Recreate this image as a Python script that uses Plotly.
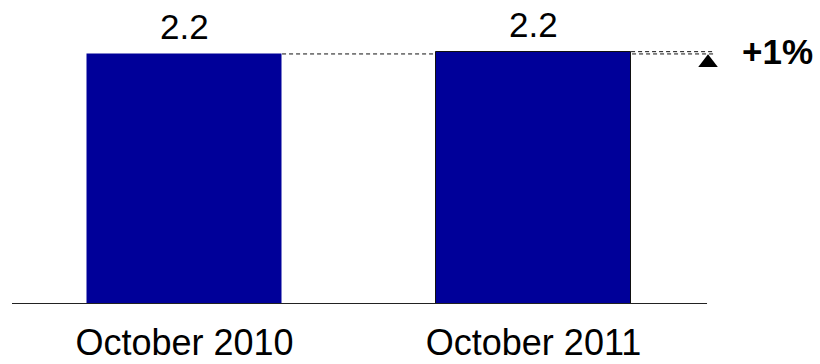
import plotly.graph_objects as go

# Data
categories = ["October 2010", "October 2011"]
values = [2.18, 2.20]
value_labels = ["2.2", "2.2"]
change_label = "+1%"

BAR_COLOR = "#000099"
FONT = "Liberation Sans, Arial, sans-serif"
BAR_WIDTH = 0.559

x_pos = list(range(len(categories)))
x_min, x_max = -0.4943, 1.54
axis_end = 1.4971


def to_paper(xv):
    return (xv - x_min) / (x_max - x_min)


fig = go.Figure()

fig.add_trace(go.Bar(
    x=x_pos,
    y=values,
    width=BAR_WIDTH,
    marker=dict(color=BAR_COLOR, line=dict(color=["rgba(0,0,0,0)", "#111111"], width=1)),
    hoverinfo="skip",
))

# Value labels above the bars
for xp, v, lab in zip(x_pos, values, value_labels):
    fig.add_annotation(
        x=xp, y=v, xref="x", yref="y",
        text=lab, showarrow=False,
        xanchor="center", yanchor="bottom", yshift=6,
        font=dict(family=FONT, size=35, color="black"),
    )

# Change marker to the right of the bars
fig.add_trace(go.Scatter(
    x=[1.5],
    y=[values[0] - 0.077],
    mode="markers",
    marker=dict(symbol="triangle-up", size=17, color="black"),
    cliponaxis=False,
    hoverinfo="skip",
))

# Baseline under the bars
fig.add_shape(type="line", xref="x", yref="y",
              x0=x_min, x1=axis_end, y0=0, y1=0,
              line=dict(color="#222222", width=2))

# Dashed reference lines at the top of each bar
line_end = 1.52
for xp, v in zip(x_pos, values):
    fig.add_shape(type="line", xref="x", yref="y",
                  x0=xp + BAR_WIDTH / 2, x1=line_end,
                  y0=v, y1=v,
                  line=dict(color="#111111", width=1, dash="4px,3px"), layer="below")

fig.add_annotation(
    x=to_paper(1.70), xref="paper",
    y=values[1], yref="y",
    text=f"<b>{change_label}</b>",
    showarrow=False,
    xanchor="center", yanchor="middle",
    font=dict(family=FONT, size=35, color="black"),
)

fig.update_layout(
    width=820, height=364,
    margin=dict(l=12, r=98, t=20, b=60),
    paper_bgcolor="white", plot_bgcolor="white",
    showlegend=False,
    bargap=0,
    font=dict(family=FONT, color="black"),
    xaxis=dict(
        range=[x_min, x_max],
        tickvals=x_pos, ticktext=categories,
        tickfont=dict(family=FONT, size=36, color="black"),
        showgrid=False, zeroline=False, showline=False,
        ticks="", ticklabelstandoff=14,
        automargin=False,
    ),
    yaxis=dict(
        range=[0, 2.476],
        visible=False, showgrid=False, zeroline=False,
        automargin=False,
    ),
)

fig.write_html("out.html")
